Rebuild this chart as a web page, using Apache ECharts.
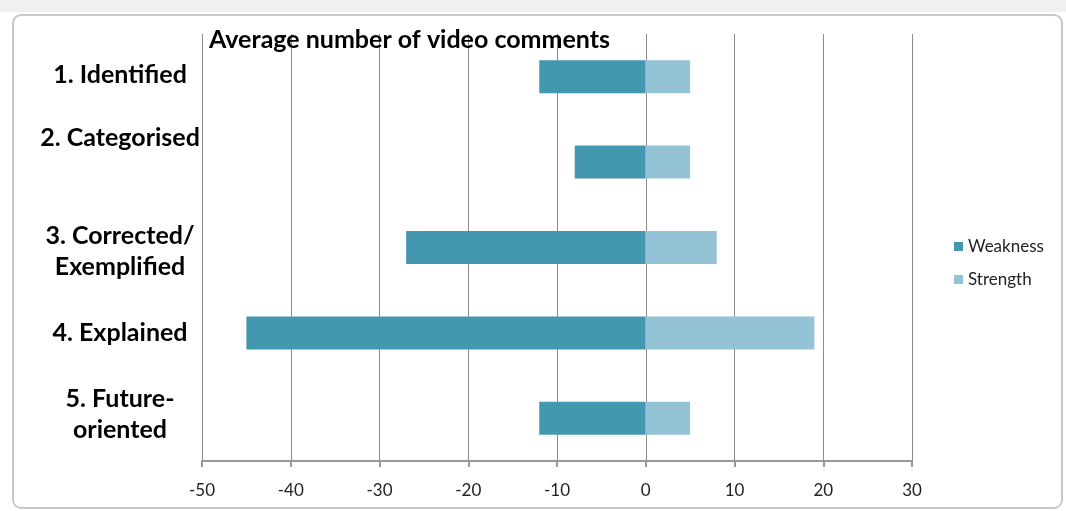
<!DOCTYPE html>
<html>
<head>
<meta charset="utf-8">
<script src="https://cdn.jsdelivr.net/npm/echarts@6/dist/echarts.min.js"></script>
<style>
  html, body { margin: 0; padding: 0; background: #fff; }
  #chart { width: 1066px; height: 511px; }
</style>
</head>
<body>
<div id="chart"></div>
<script>
  // chart data
  var categories = ['1. Identified', '2. Categorised', '3. Corrected/\nExemplified', '4. Explained', '5. Future-\noriented'];
  var weakness = [-12, -8, -27, -45, -12];
  var strength = [5, 5, 8, 19, 5];
  // Excel places some labels a little off their bar
  var labelShift = [2, 24, -4, 0, 4];

  var chart = echarts.init(document.getElementById('chart'));

  var option = {
    animation: false,
    textStyle: { fontFamily: 'Lato, sans-serif' },
    graphic: [
      { type: 'rect', z: -10, shape: { x: 0, y: 0, width: 1066, height: 12 }, style: { fill: '#f0f0f0' } },
      { type: 'rect', z: -9, shape: { x: 13, y: 15, width: 1049, height: 493, r: 8 }, style: { fill: '#fff', stroke: '#c8c8c8', lineWidth: 2 } }
    ],
    title: {
      text: 'Average number of video comments',
      left: 204,
      top: 22,
      textStyle: { fontSize: 25, fontWeight: 'bold', color: '#000', fontFamily: 'Lato, sans-serif' }
    },
    legend: {
      orient: 'vertical',
      left: 949,
      top: 233,
      itemWidth: 9,
      itemHeight: 9,
      itemGap: 16,
      icon: 'rect',
      textStyle: { fontSize: 17, color: '#222', fontFamily: 'Lato, sans-serif' },
      data: ['Weakness', 'Strength']
    },
    grid: { left: 202, right: 154, top: 34, bottom: 50, containLabel: false },
    xAxis: {
      type: 'value',
      min: -50,
      max: 30,
      interval: 10,
      axisLine: { show: true, lineStyle: { color: '#999', width: 2 } },
      axisTick: { show: true, length: 6, lineStyle: { color: '#999', width: 2 } },
      axisLabel: { fontSize: 17, color: '#222', margin: 21, fontFamily: 'Lato, sans-serif' },
      splitLine: { show: true, lineStyle: { color: '#8c8c8c', width: 1 } }
    },
    yAxis: {
      type: 'category',
      inverse: true,
      data: categories,
      axisLine: { show: false },
      axisTick: { show: false },
      axisLabel: {
        align: 'center',
        margin: 82,
        formatter: function (value, idx) {
          return value.split('\n').map(function (line) {
            return '{t' + idx + '|' + line + '}';
          }).join('\n');
        },
        rich: (function () {
          var r = {};
          for (var i = 0; i < categories.length; i++) {
            var s = labelShift[i];
            r['t' + i] = {
              fontSize: 25, fontWeight: 'bold', color: '#000', lineHeight: 31,
              fontFamily: 'Lato, sans-serif',
              padding: s > 0 ? [0, 0, s * 2, 0] : [-s * 2, 0, 0, 0]
            };
          }
          return r;
        })()
      }
    },
    series: [
      {
        name: 'Weakness',
        type: 'bar',
        stack: 'total',
        barWidth: 33,
        itemStyle: { color: '#4398b0' },
        data: weakness
      },
      {
        name: 'Strength',
        type: 'bar',
        stack: 'total',
        barWidth: 33,
        itemStyle: { color: '#93c3d5' },
        data: strength
      }
    ]
  };

  chart.setOption(option);
</script>
</body>
</html>
